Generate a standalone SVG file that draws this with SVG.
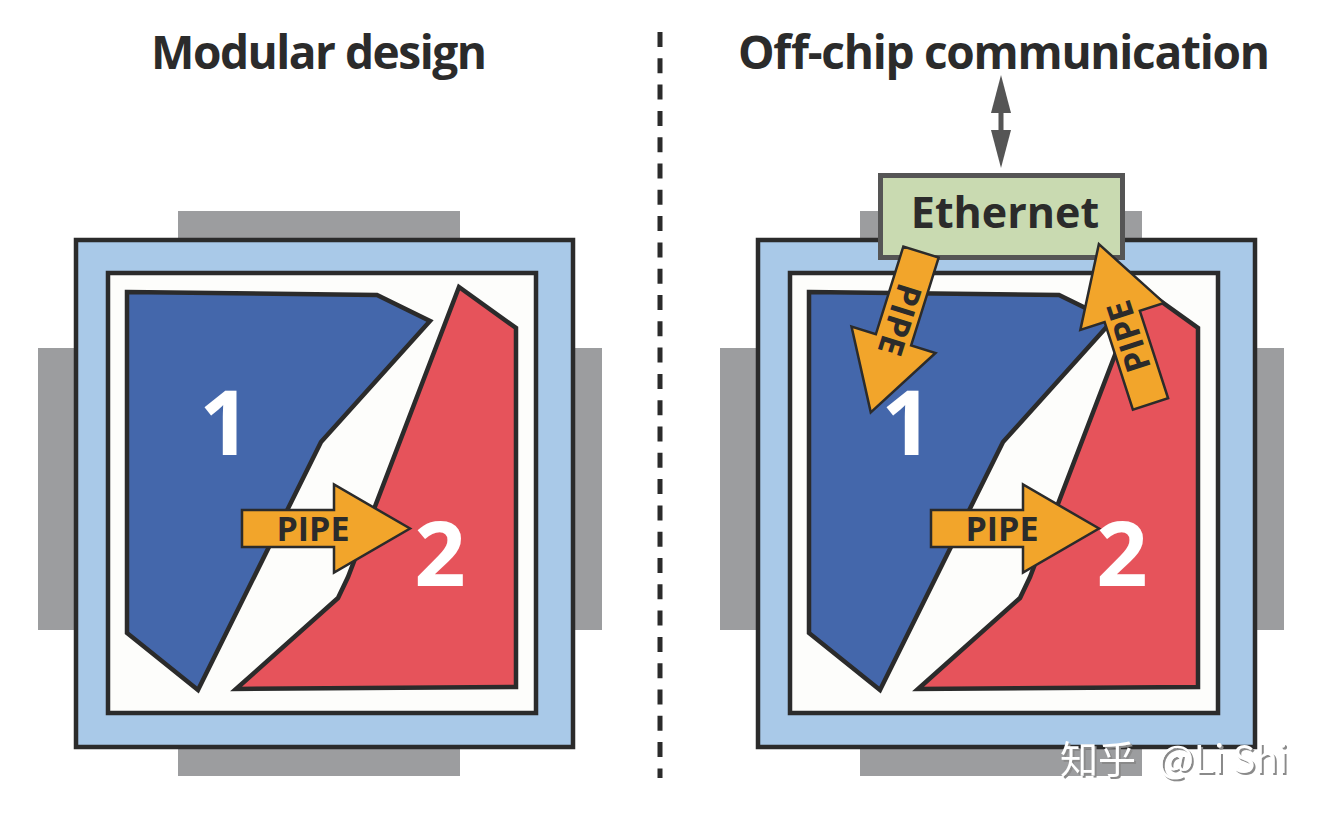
<svg xmlns="http://www.w3.org/2000/svg" width="1322" height="814" viewBox="0 0 1322 814">
  <defs>
    <style>
      .pad { fill: #9c9d9f; }
      .outer { fill: #a9c9e8; stroke: #2b2b2b; stroke-width: 4.5; }
      .inner { fill: #fdfdfb; stroke: #2b2b2b; stroke-width: 4.5; }
      .blue { fill: #4467ab; stroke: #2b2b2b; stroke-width: 4.5; stroke-linejoin: miter; }
      .red { fill: #e6535b; stroke: #2b2b2b; stroke-width: 4.5; stroke-linejoin: miter; }
      .num { font-family: "Open Sans", "Noto Sans", "Liberation Sans", sans-serif; font-weight: 700; font-size: 90px; fill: #ffffff; text-anchor: middle; }
      .title { font-family: "Open Sans", "Noto Sans", "Liberation Sans", sans-serif; font-weight: 700; font-size: 46px; fill: #2b2b2b; text-anchor: middle; }
      .pipe { fill: #f2a52b; stroke: #2b2b2b; stroke-width: 2.5; stroke-linejoin: miter; }
      .pipetxt { font-family: "Open Sans", "Noto Sans", "Liberation Sans", sans-serif; font-weight: 700; font-size: 34px; fill: #2b2b2b; text-anchor: middle; }
      .eth { fill: #c9dab1; stroke: #555555; stroke-width: 5; }
      .ethtxt { font-family: "Open Sans", "Noto Sans", "Liberation Sans", sans-serif; font-weight: 700; font-size: 43px; fill: #2b2b2b; text-anchor: middle; }
      .wm { font-family: "Noto Sans CJK SC", "Noto Sans", sans-serif; font-size: 38px; fill: #ffffff; }
    </style>
    <polygon id="arrowShape" points="0,-18.5 92,-18.5 92,-44 168,0 92,44 92,18.5 0,18.5"/>
    <filter id="shadow" x="-10%" y="-30%" width="130%" height="170%">
      <feDropShadow dx="2" dy="2" stdDeviation="0.6" flood-color="#8a8a8a" flood-opacity="1"/>
    </filter>
  </defs>

  <rect width="1322" height="814" fill="#ffffff"/>

  <!-- Titles -->
  <g id="title-left">
    <text class="title" x="319" y="69" textLength="336">Modular design</text>
  </g>
  <g id="title-right">
    <text class="title" x="1004" y="69" textLength="532">Off-chip communication</text>
  </g>

  <!-- Divider -->
  <g id="divider">
    <line x1="660" y1="32" x2="660" y2="778" stroke="#2b2b2b" stroke-width="5" stroke-dasharray="15 11.3"/>
  </g>

  <!-- Left chip -->
  <g id="chip-left">
    <rect class="pad" x="178" y="211" width="282" height="32"/>
    <rect class="pad" x="178" y="744" width="282" height="32"/>
    <rect class="pad" x="38" y="348" width="40" height="282"/>
    <rect class="pad" x="570" y="348" width="32" height="282"/>
    <rect class="outer" x="76" y="240" width="497" height="507"/>
    <rect class="inner" x="108" y="273" width="428" height="440"/>
  </g>
  <g id="region-left-1">
    <polygon class="blue" points="127,292 377,295 430,321 321,442 198,690 127,633"/>
    <text class="num" x="225" y="455">1</text>
  </g>
  <g id="region-left-2">
    <polygon class="red" points="459,287 516,328 516,687 236,689 338,598 348,577"/>
    <text class="num" x="440" y="586">2</text>
  </g>

  <!-- Right chip -->
  <g id="chip-right">
    <rect class="pad" x="860" y="211" width="282" height="32"/>
    <rect class="pad" x="860" y="744" width="282" height="32"/>
    <rect class="pad" x="720" y="348" width="40" height="282"/>
    <rect class="pad" x="1252" y="348" width="32" height="282"/>
    <rect class="outer" x="758" y="240" width="497" height="507"/>
    <rect class="inner" x="790" y="273" width="428" height="440"/>
  </g>
  <g id="region-right-1">
    <polygon class="blue" points="809,292 1059,295 1112,321 1003,442 880,690 809,633"/>
    <text class="num" x="907" y="455">1</text>
  </g>
  <g id="region-right-2">
    <polygon class="red" points="1141,287 1198,328 1198,687 918,689 1020,598 1030,577"/>
    <text class="num" x="1122" y="586">2</text>
  </g>
  <g id="ethernet">
    <rect class="eth" x="880.5" y="175.5" width="242" height="82"/>
    <text class="ethtxt" x="1005" y="228">Ethernet</text>
  </g>

  <!-- Connectors -->
  <g id="connectors">
    <g id="pipe-left" transform="translate(242,528.5)">
      <use href="#arrowShape" class="pipe"/>
      <text class="pipetxt" x="71" y="12">PIPE</text>
    </g>
    <g id="pipe-right" transform="translate(931,528.5)">
      <use href="#arrowShape" class="pipe"/>
      <text class="pipetxt" x="71" y="12">PIPE</text>
    </g>
    <g id="pipe-eth-down" transform="translate(921,252) rotate(107.4)">
      <use href="#arrowShape" class="pipe"/>
      <text class="pipetxt" x="71" y="12">PIPE</text>
    </g>
    <g id="pipe-eth-up" transform="translate(1150.5,404) rotate(-107.9)">
      <use href="#arrowShape" class="pipe"/>
      <text class="pipetxt" x="71" y="12">PIPE</text>
    </g>
    <g id="offchip-link" fill="#555555">
      <polygon points="1001,75 991,113 1011,113"/>
      <rect x="998.5" y="112" width="5" height="19"/>
      <polygon points="991,130 1011,130 1001,168"/>
    </g>
  </g>

  <!-- Watermark -->
  <g id="watermark" filter="url(#shadow)">
    <text class="wm" x="1060" y="773">知乎 <tspan x="1158" textLength="130">@Li Shi</tspan></text>
  </g>
</svg>
